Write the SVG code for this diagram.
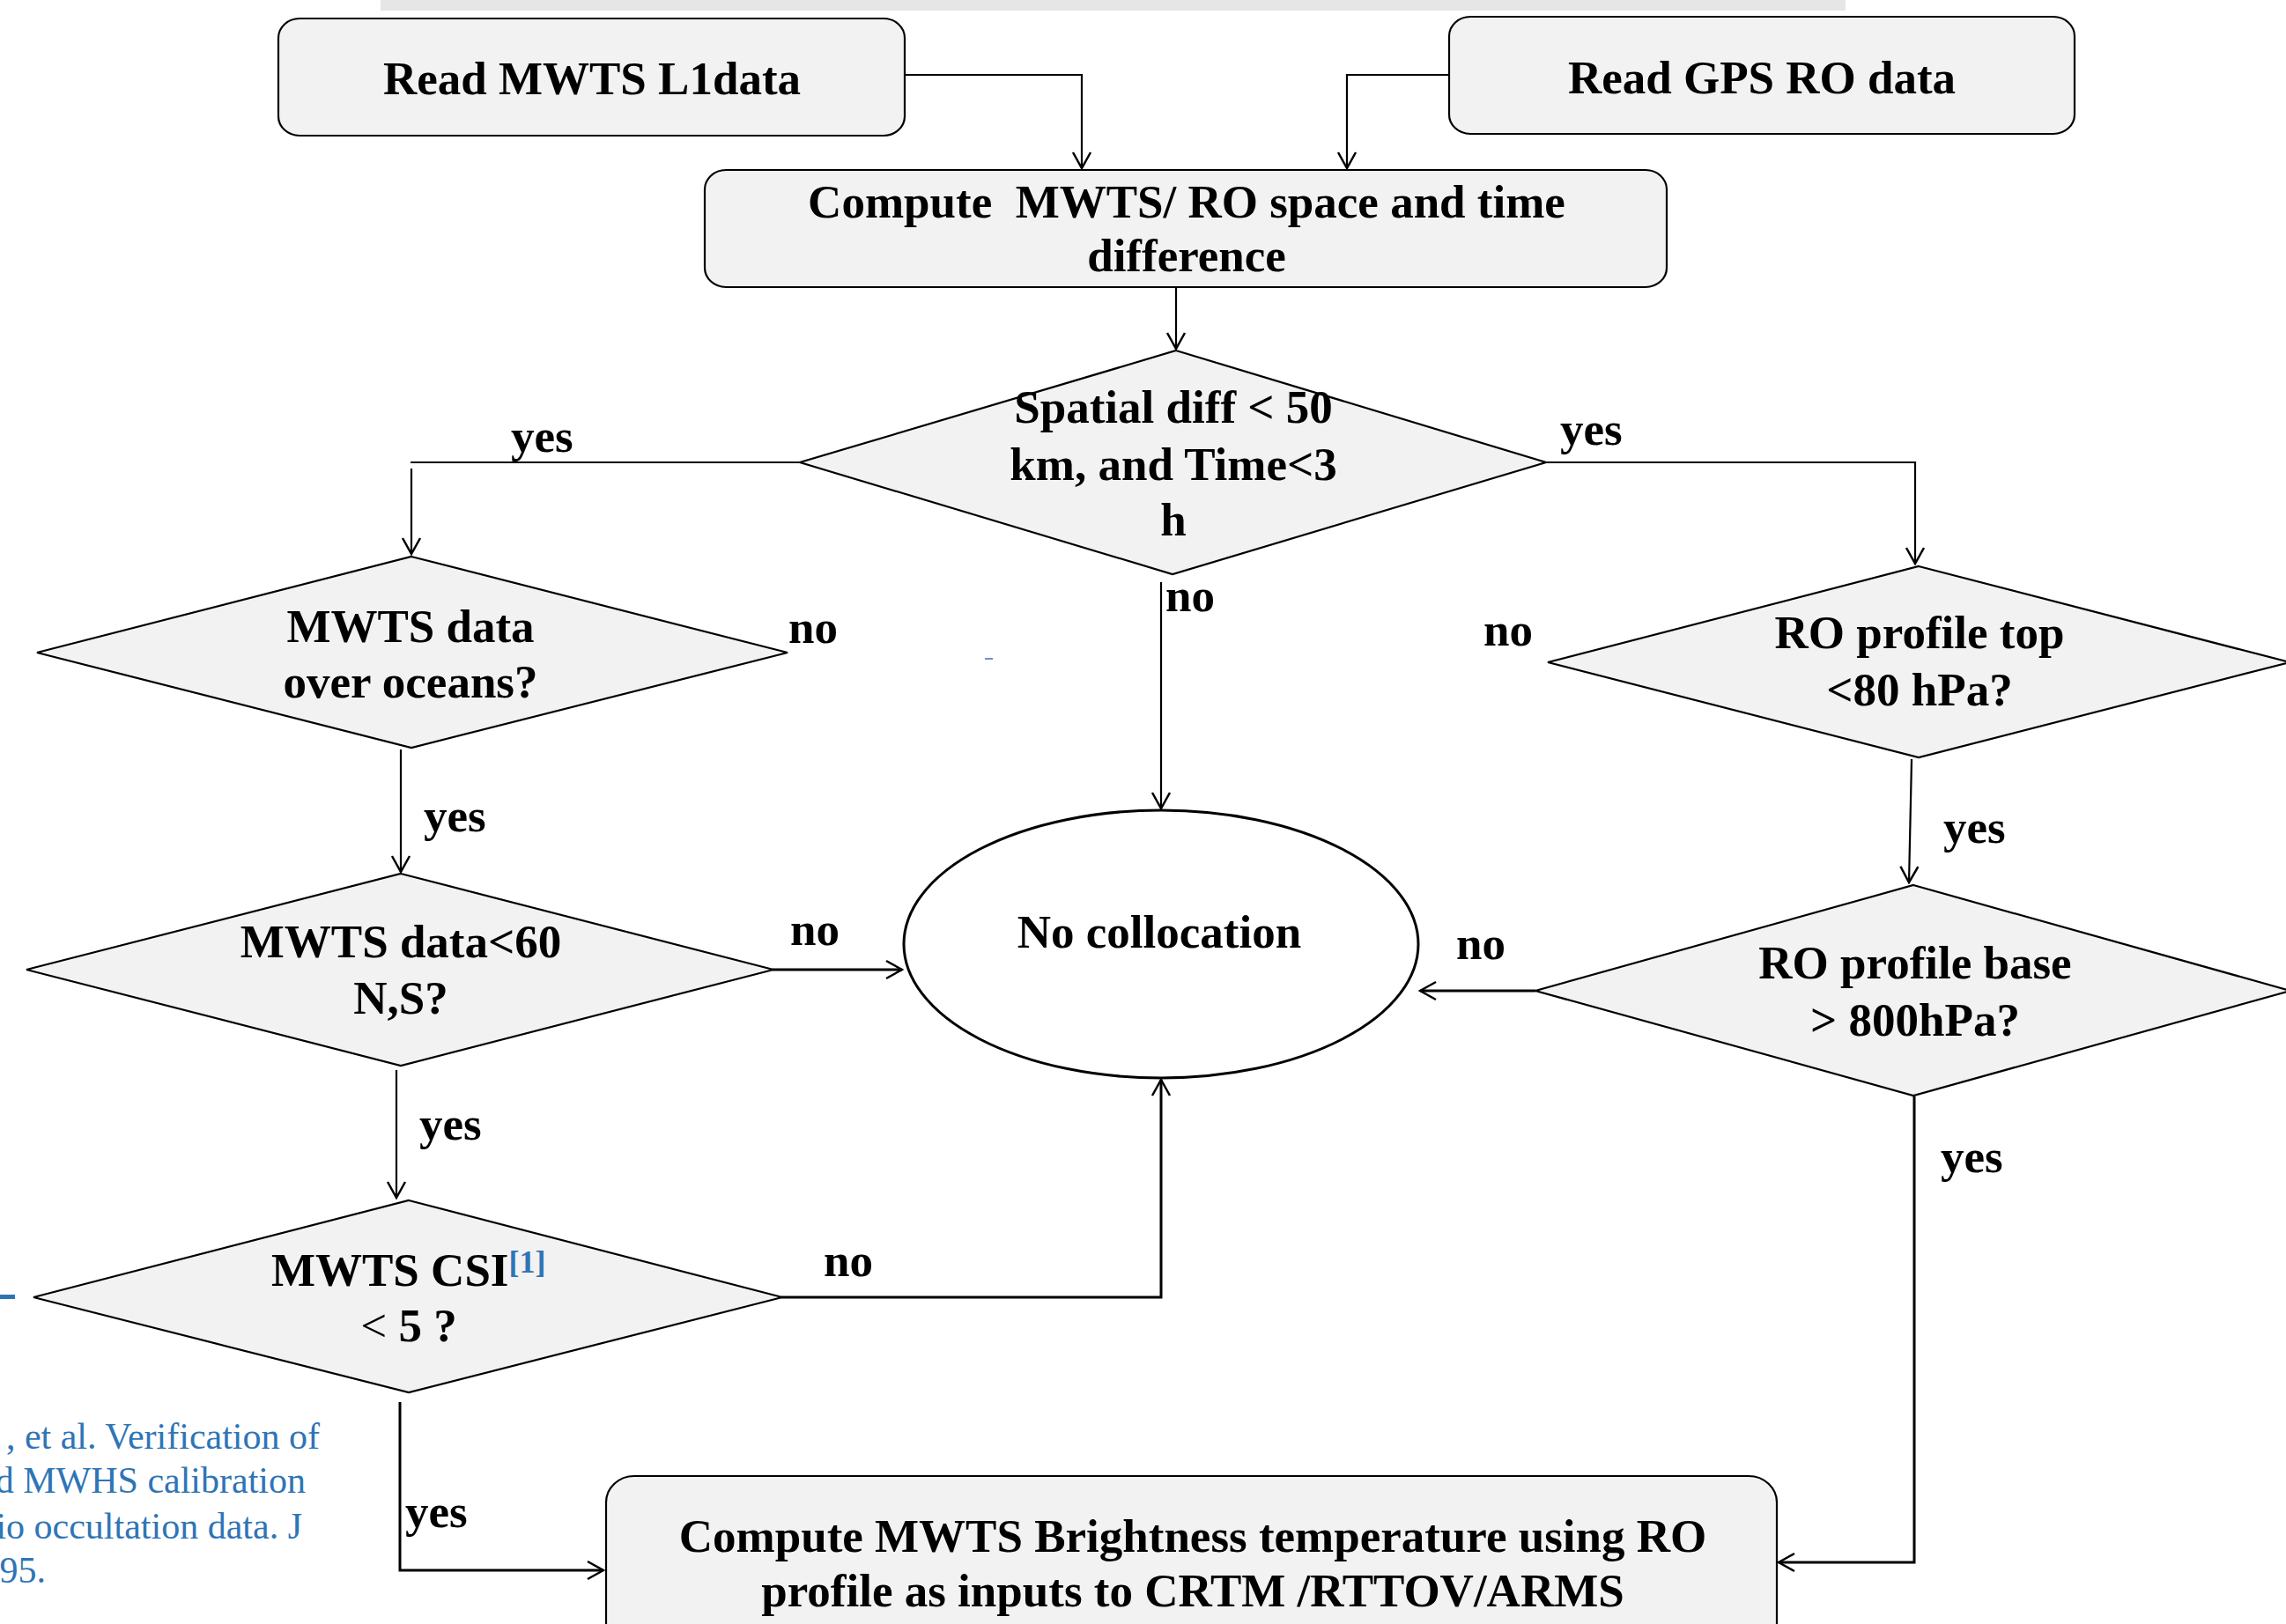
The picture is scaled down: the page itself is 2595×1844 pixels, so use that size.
<svg xmlns="http://www.w3.org/2000/svg" width="2595" height="1844" viewBox="0 0 2595 1844">
<defs>
<style>
.box{fill:#f2f2f2;stroke:#000;stroke-width:2.2}
.dia{fill:#f2f2f2;stroke:#000;stroke-width:2.2}
.ell{fill:#fff;stroke:#000;stroke-width:3}
.t{font-family:"Liberation Serif","Times New Roman",serif;font-weight:bold;font-size:53px;fill:#000}
.c{text-anchor:middle}
.lbl{font-family:"Liberation Serif","Times New Roman",serif;font-weight:bold;font-size:53px;fill:#000}
.ln{fill:none;stroke:#000;stroke-width:2.2}
.thick{stroke-width:3}
.blue{font-family:"Liberation Serif","Times New Roman",serif;font-size:42px;fill:#2e75b6;text-anchor:end}
</style>
<marker id="arr" viewBox="-22 -12 24 24" refX="0" refY="0" markerWidth="24" markerHeight="24" markerUnits="userSpaceOnUse" orient="auto">
<path d="M-18,-10 L0,0 L-18,10" fill="none" stroke="#000" stroke-width="2.5"/>
</marker>
</defs>
<rect x="432" y="0" width="1663" height="12" fill="#e6e6e6"/>
<rect x="1118" y="747" width="9" height="2" fill="#6a8fd8"/>
<rect x="0" y="1470" width="17" height="5" fill="#2e75b6"/>
<g id="citation">
<text class="blue" x="363" y="1645">, et al. Verification of</text>
<text class="blue" x="347" y="1695">d MWHS calibration</text>
<text class="blue" x="343" y="1747">io occultation data. J</text>
<text class="blue" x="52" y="1797">95.</text>
</g>
<g id="connectors">
<path class="ln" d="M1027,85 H1228 V191" marker-end="url(#arr)"/>
<path class="ln" d="M1645,85 H1529 V191" marker-end="url(#arr)"/>
<path class="ln" d="M1335,326 V396" marker-end="url(#arr)"/>
<path class="ln" d="M908,525 H466"/>
<path class="ln" d="M467,532 V629" marker-end="url(#arr)"/>
<path class="ln" d="M1755,525 H2174 V640" marker-end="url(#arr)"/>
<path class="ln" d="M1318,661 V918" marker-end="url(#arr)"/>
<path class="ln" d="M455,851 V990" marker-end="url(#arr)"/>
<path class="ln thick" d="M877,1101 H1024" marker-end="url(#arr)"/>
<path class="ln" d="M450,1215 V1360" marker-end="url(#arr)"/>
<path class="ln thick" d="M887,1473 H1318 V1226" marker-end="url(#arr)"/>
<path class="ln thick" d="M454,1592 V1783 H685" marker-end="url(#arr)"/>
<path class="ln" d="M2170,862 L2167,1002" marker-end="url(#arr)"/>
<path class="ln thick" d="M1743,1125 H1612" marker-end="url(#arr)"/>
<path class="ln thick" d="M2173,1245 V1774 H2019" marker-end="url(#arr)"/>
</g>
<g id="labels">
<text class="lbl" x="580" y="513">yes</text>
<text class="lbl" x="1771" y="505">yes</text>
<text class="lbl" x="1323" y="694">no</text>
<text class="lbl" x="895" y="730">no</text>
<text class="lbl" x="481" y="944">yes</text>
<text class="lbl" x="897" y="1073">no</text>
<text class="lbl" x="476" y="1294">yes</text>
<text class="lbl" x="935" y="1449">no</text>
<text class="lbl" x="460" y="1734">yes</text>
<text class="lbl" x="1684" y="733">no</text>
<text class="lbl" x="2206" y="957">yes</text>
<text class="lbl" x="1653" y="1089">no</text>
<text class="lbl" x="2203" y="1331">yes</text>
</g>
<g id="read-mwts">
<rect class="box" x="316" y="21" width="711" height="133" rx="24" ry="22"/>
<text class="t c" x="672" y="107">Read MWTS L1data</text>
</g>
<g id="read-gps">
<rect class="box" x="1645" y="19" width="710" height="133" rx="24" ry="22"/>
<text class="t c" x="2000" y="106">Read GPS RO data</text>
</g>
<g id="compute-diff">
<rect class="box" x="800" y="193" width="1092" height="133" rx="24" ry="22"/>
<text class="t c" x="1347" y="247" xml:space="preserve">Compute  MWTS/ RO space and time</text>
<text class="t c" x="1347" y="308">difference</text>
</g>
<g id="spatial-diff">
<polygon class="dia" points="1335,398 1755,525 1331,652 908,525"/>
<text class="t c" x="1332" y="480">Spatial diff &lt; 50</text>
<text class="t c" x="1332" y="545">km, and Time&lt;3</text>
<text class="t c" x="1332" y="608">h</text>
</g>
<g id="over-oceans">
<polygon class="dia" points="467,632 894,741 467,849 42,741"/>
<text class="t c" x="466" y="729">MWTS data</text>
<text class="t c" x="466" y="792">over oceans?</text>
</g>
<g id="lat-check">
<polygon class="dia" points="455,992 878,1101 455,1210 30,1101"/>
<text class="t c" x="455" y="1087">MWTS data&lt;60</text>
<text class="t c" x="455" y="1151">N,S?</text>
</g>
<g id="csi-check">
<polygon class="dia" points="464,1363 888,1473 464,1581 38,1473"/>
<text class="t" x="308" y="1460">MWTS CSI<tspan font-weight="bold" font-size="36" fill="#2e75b6" dy="-15">[1]</tspan></text>
<text class="t c" x="464" y="1523"><tspan font-weight="normal">&lt;</tspan> 5 ?</text>
</g>
<g id="no-collocation">
<ellipse class="ell" cx="1318" cy="1072" rx="292" ry="152"/>
<text class="t c" x="1316" y="1076">No collocation</text>
</g>
<g id="ro-top">
<polygon class="dia" points="2178,643 2599,752 2178,860 1757,752"/>
<text class="t c" x="2179" y="736">RO profile top</text>
<text class="t c" x="2179" y="801">&lt;80 hPa?</text>
</g>
<g id="ro-base">
<polygon class="dia" points="2172,1005 2600,1125 2172,1244 1743,1125"/>
<text class="t c" x="2174" y="1111">RO profile base</text>
<text class="t c" x="2174" y="1176">&gt; 800hPa?</text>
</g>
<g id="compute-tb">
<rect class="box" x="688" y="1676" width="1329" height="220" rx="32" ry="30"/>
<text class="t c" x="1354" y="1762">Compute MWTS Brightness temperature using RO</text>
<text class="t c" x="1354" y="1824">profile as inputs to CRTM /RTTOV/ARMS</text>
</g>
</svg>
